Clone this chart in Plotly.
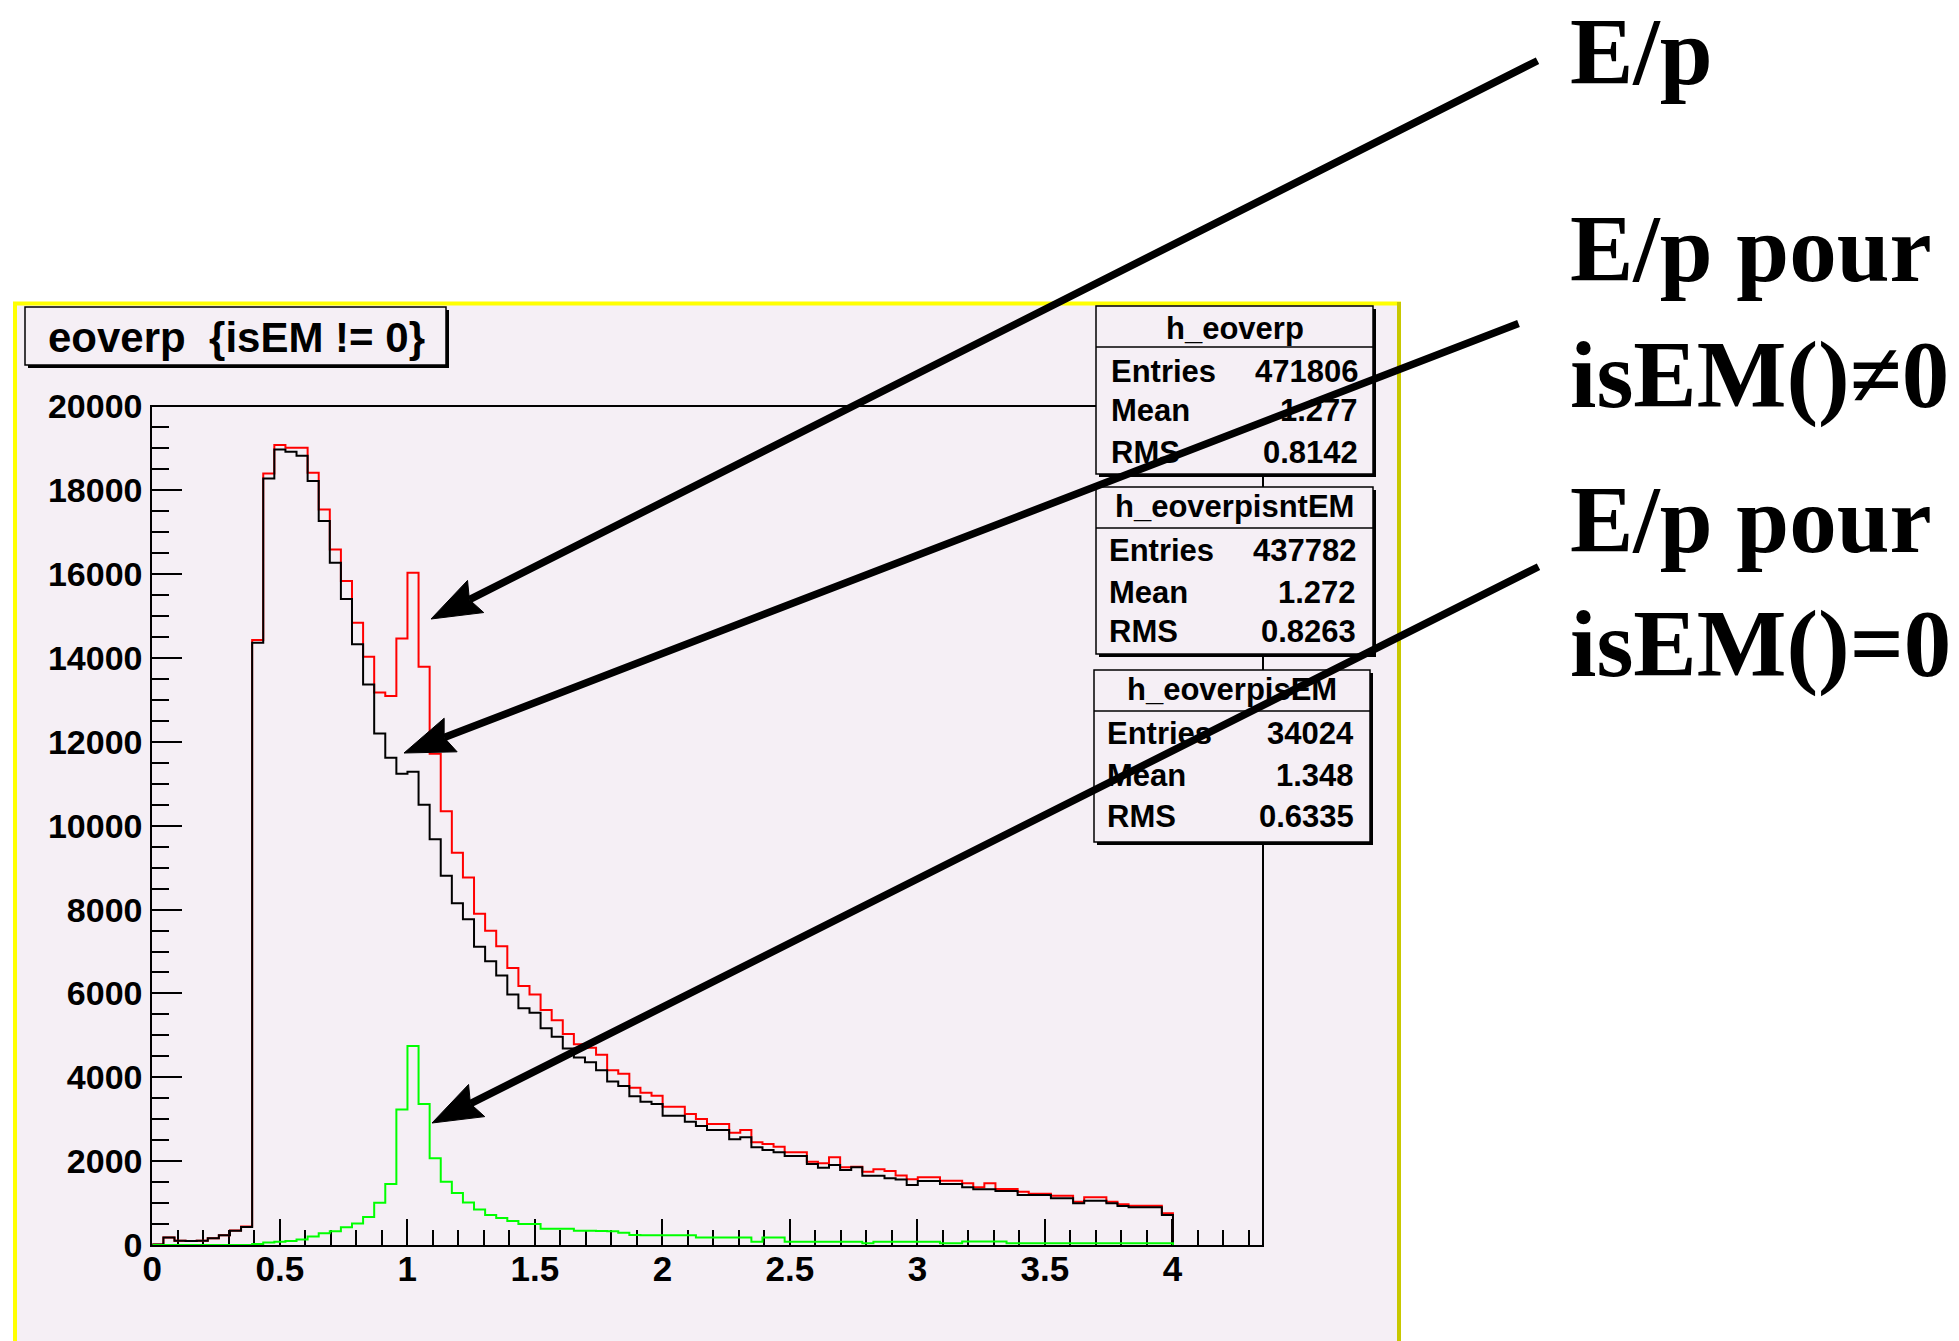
import numpy as np
import plotly.graph_objects as go

FIG_W, FIG_H = 1959, 1341

# ---------------- data ----------------
# TH1 binning: 100 bins on [0, 4.35]; only the first 92 bins are filled (cut at E/p = 4)
N_BINS = 100
X_MIN, X_MAX = 0.0, 4.35
Y_MIN, Y_MAX = 0, 20000

# h_eoverp (all electrons) - red
H_EOVERP = [10, 180, 100, 95, 100, 160, 235, 345, 440, 14429,
            18404, 19080, 19016, 19016, 18420, 17546, 16592, 15836, 14843, 14032,
            13181, 13094, 14469, 16035, 13793, 11717, 10347, 9354, 8764, 7903,
            7493, 7124, 6607, 6180, 5975, 5606, 5360, 5032, 4786, 4704,
            4540, 4171, 4085, 3750, 3633, 3561, 3299, 3299, 3124, 3005,
            2886, 2886, 2679, 2743, 2449, 2409, 2345, 2210, 2210, 1988,
            1950, 2091, 1852, 1868, 1749, 1805, 1765, 1660, 1570, 1614,
            1614, 1534, 1534, 1470, 1375, 1470, 1336, 1336, 1272, 1224,
            1224, 1177, 1177, 1034, 1137, 1137, 1034, 970, 938, 938,
            938, 755]

# h_eoverpisntEM (isEM != 0) - black
H_ISNTEM = [10, 180, 100, 95, 100, 160, 230, 340, 430, 14366,
            18285, 18976, 18921, 18826, 18221, 17267, 16274, 15407, 14327, 13372,
            12200, 11620, 11240, 11290, 10500, 9680, 8805, 8150, 7771, 7115,
            6771, 6426, 5975, 5647, 5541, 5172, 4967, 4687, 4474, 4360,
            4171, 3900, 3790, 3550, 3418, 3363, 3084, 3084, 2941, 2838,
            2743, 2743, 2520, 2568, 2329, 2266, 2210, 2123, 2123, 1932,
            1844, 1908, 1789, 1852, 1654, 1654, 1590, 1560, 1431, 1526,
            1526, 1455, 1455, 1375, 1328, 1328, 1288, 1288, 1193, 1193,
            1193, 1113, 1113, 994, 1057, 1057, 994, 930, 898, 898,
            898, 716]

# h_eoverpisEM (isEM == 0) - green
H_ISEM = [0, 0, 0, 0, 0, 0, 0, 0, 0, 25,
          60, 80, 95, 130, 200, 280, 330, 425, 515, 670,
          1005, 1455, 3230, 4745, 3365, 2070, 1510, 1240, 1015, 845,
          715, 645, 575, 500, 500, 390, 390, 385, 340, 340,
          335, 330, 290, 240, 235, 235, 235, 235, 235, 180,
          180, 180, 180, 180, 80, 180, 180, 80, 80, 80,
          80, 80, 80, 80, 40, 80, 80, 80, 80, 80,
          80, 40, 40, 85, 85, 85, 85, 40, 40, 40,
          40, 40, 40, 40, 40, 40, 40, 40, 40, 40,
          40, 40]

STAT_NAMES = ["h_eoverp", "h_eoverpisntEM", "h_eoverpisEM"]
STAT_ENTRIES = ["471806", "437782", "34024"]
STAT_MEAN = ["1.277", "1.272", "1.348"]
STAT_RMS = ["0.8142", "0.8263", "0.6335"]

TITLE = "eoverp \u00a0{isEM != 0}"
LABELS = ["E/p", "E/p pour", "isEM()\u22600", "E/p pour", "isEM()=0"]

X_TICKS = [0, 0.5, 1, 1.5, 2, 2.5, 3, 3.5, 4]
X_TICKTEXT = ["0", "0.5", "1", "1.5", "2", "2.5", "3", "3.5", "4"]
Y_TICKS = [0, 2000, 4000, 6000, 8000, 10000, 12000, 14000, 16000, 18000, 20000]

# ---------------- helpers ----------------
def px(x):
    return x / FIG_W

def py(y):
    return 1 - y / FIG_H

BG = "#f5eff5"
FONT = "Liberation Sans"

def step_xy(vals):
    w = (X_MAX - X_MIN) / N_BINS
    edges = X_MIN + w * np.arange(len(vals) + 1)
    xs = np.concatenate([[edges[0]], edges])
    ys = np.concatenate([[0], np.asarray(vals, float), [0]])
    return xs, ys

fig = go.Figure()
for vals, col in [(H_EOVERP, "#ff0000"), (H_ISNTEM, "#000000"), (H_ISEM, "#00ff00")]:
    xs, ys = step_xy(vals)
    fig.add_trace(go.Scatter(x=xs, y=ys, mode="lines", line=dict(color=col, width=2, shape="hv"),
                             hoverinfo="skip", showlegend=False))

shapes = []

def rect(x0, y0, x1, y1, fill, line_color=None, lw=0, layer="above"):
    d = dict(type="rect", xref="paper", yref="paper", x0=px(x0), x1=px(x1), y0=py(y1), y1=py(y0),
             fillcolor=fill, layer=layer)
    if line_color is None or lw == 0:
        d["line"] = dict(width=0)
    else:
        d["line"] = dict(color=line_color, width=lw)
    return d

def seg(x0, y0, x1, y1, color, lw, layer="above"):
    return dict(type="line", xref="paper", yref="paper", x0=px(x0), y0=py(y0), x1=px(x1), y1=py(y1),
                line=dict(color=color, width=lw), layer=layer)

# pad
shapes.append(rect(15, 302, 1399, FIG_H + 20, BG, layer="below"))
shapes.append(seg(13, 303.5, 1401, 303.5, "#ffff00", 4, layer="below"))
shapes.append(seg(15, 302, 15, FIG_H + 5, "#ffff00", 4, layer="below"))
shapes.append(seg(1399, 302, 1399, FIG_H + 5, "#c8c800", 4, layer="below"))

def shadow_box(x0, y0, x1, y1, s=3):
    shapes.append(rect(x0 + s, y0 + s, x1 + s, y1 + s, "#000000"))
    shapes.append(rect(x0, y0, x1, y1, BG, "#000000", 1.5))

# title box
shadow_box(25, 307, 446, 365)

annotations = []
annotations.append(dict(text=TITLE, x=px(46), y=py(337), xref="paper", yref="paper",
                        xanchor="left", yanchor="middle", showarrow=False,
                        font=dict(family=FONT, size=42, color="black", weight="bold")))

# stats boxes
BOXES = [  # x0, y0, x1, y1, divider, title_cy, row centers, text left, text right
    (1096, 306, 1373, 474, 347, 328, [371, 411, 452], 1109, 1360),
    (1096, 487, 1373, 654, 528, 507, [550, 592, 632], 1107, 1358),
    (1094, 670, 1370, 842, 711, 689, [733, 775, 816], 1105, 1356),
]
for i, (x0, y0, x1, y1, dv, tcy, rows, tl, tr) in enumerate(BOXES):
    shadow_box(x0, y0, x1, y1)
    shapes.append(seg(x0, dv, x1, dv, "#000000", 1.5))
    annotations.append(dict(text=STAT_NAMES[i], x=px((x0 + x1) / 2), y=py(tcy), xref="paper", yref="paper",
                            xanchor="center", yanchor="middle", showarrow=False,
                            font=dict(family=FONT, size=31, color="black", weight="bold")))
    for lab, val, cy in zip(["Entries", "Mean", "RMS"], [STAT_ENTRIES[i], STAT_MEAN[i], STAT_RMS[i]], rows):
        annotations.append(dict(text=lab, x=px(tl), y=py(cy), xref="paper", yref="paper",
                                xanchor="left", yanchor="middle", showarrow=False,
                                font=dict(family=FONT, size=31, color="black", weight="bold")))
        annotations.append(dict(text=val, x=px(tr), y=py(cy), xref="paper", yref="paper",
                                xanchor="right", yanchor="middle", showarrow=False,
                                font=dict(family=FONT, size=31, color="black", weight="bold")))

# right-hand labels
for lab, cy in zip(LABELS, [52, 249, 375, 520, 644]):
    annotations.append(dict(text=lab, x=px(1568), y=py(cy), xref="paper", yref="paper",
                            xanchor="left", yanchor="middle", showarrow=False,
                            font=dict(family="Liberation Serif", size=95, color="black", weight="bold")))

# arrows (tail -> tip), in pixels
ARROWS = [((1539, 60), (431, 619)), ((1520, 323), (404, 753)), ((1540, 566), (432, 1123))]
HEAD_L, HEAD_W, NOTCH = 50, 36, 7
for (sx, sy), (tx, ty) in ARROWS:
    ux, uy = sx - tx, sy - ty
    n = np.hypot(ux, uy)
    ux, uy = ux / n, uy / n
    nx, ny = -uy, ux
    bx, by = tx + ux * HEAD_L, ty + uy * HEAD_L
    c1 = (bx + nx * HEAD_W / 2, by + ny * HEAD_W / 2)
    c2 = (bx - nx * HEAD_W / 2, by - ny * HEAD_W / 2)
    nt = (tx + ux * (HEAD_L - NOTCH), ty + uy * (HEAD_L - NOTCH))
    path = "M {} {} L {} {} L {} {} L {} {} Z".format(
        px(tx), py(ty), px(c1[0]), py(c1[1]), px(nt[0]), py(nt[1]), px(c2[0]), py(c2[1]))
    shapes.append(dict(type="path", xref="paper", yref="paper", path=path,
                       fillcolor="#000000", line=dict(color="#000000", width=1), layer="above"))
    annotations.append(dict(text="", x=px(nt[0]), y=py(nt[1]), xref="paper", yref="paper",
                            ax=sx - nt[0], ay=sy - nt[1], showarrow=True, arrowhead=0,
                            arrowwidth=7.5, arrowcolor="#000000", standoff=0, startstandoff=0))

axis_common = dict(showline=True, linewidth=2, linecolor="black", mirror=True, showgrid=False,
                   zeroline=False, ticks="inside", tickwidth=2, tickcolor="black",
                   layer="below traces", automargin=False)

fig.update_layout(
    width=FIG_W, height=FIG_H, autosize=False,
    margin=dict(l=0, r=0, t=0, b=0, pad=0),
    paper_bgcolor="white", plot_bgcolor="rgba(0,0,0,0)",
    showlegend=False,
    xaxis=dict(domain=[px(152.3), px(1261.7)], range=[X_MIN, X_MAX],
               tickvals=X_TICKS, ticktext=X_TICKTEXT, ticklen=26,
               minor=dict(dtick=0.1, tick0=0, ticks="inside", ticklen=15, tickwidth=2,
                          tickcolor="black", showgrid=False),
               ticklabelstandoff=-8,
               tickfont=dict(family=FONT, size=35, color="black", weight="bold"),
               **axis_common),
    yaxis=dict(domain=[py(1245), py(406.5)], range=[Y_MIN, Y_MAX],
               tickvals=Y_TICKS, ticktext=[str(v) for v in Y_TICKS], ticklen=30,
               minor=dict(dtick=500, tick0=0, ticks="inside", ticklen=17, tickwidth=2,
                          tickcolor="black", showgrid=False),
               ticklabelstandoff=1,
               tickfont=dict(family=FONT, size=34, color="black", weight="bold"),
               **axis_common),
    shapes=shapes,
    annotations=annotations,
)

# make the page exactly the figure size (no default body margin / scrollbars)
POST = """
document.documentElement.style.margin = '0';
document.documentElement.style.padding = '0';
document.documentElement.style.overflow = 'hidden';
document.body.style.margin = '0';
document.body.style.padding = '0';
document.body.style.overflow = 'hidden';
"""

fig.write_html("out.html", config={"displayModeBar": False, "responsive": False},
               post_script=POST)
